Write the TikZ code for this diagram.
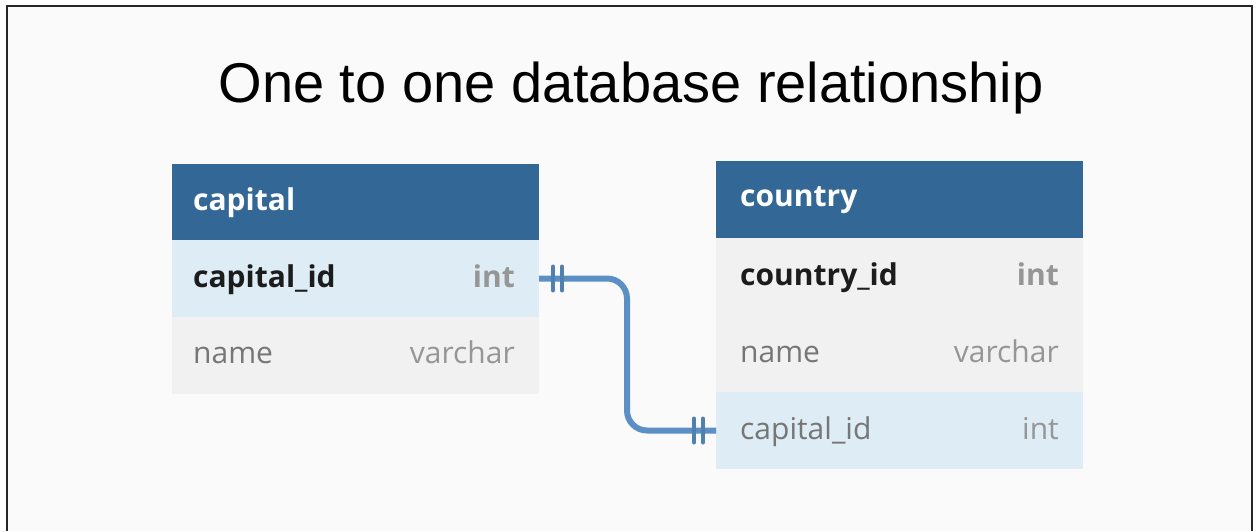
\documentclass[tikz,border=0pt]{standalone}
\usepackage{fontspec}
\setmainfont{Open Sans}
\newfontfamily\titlefont{Liberation Sans}
\definecolor{pagebg}{RGB}{250,250,250}
\definecolor{headblue}{RGB}{51,103,149}
\definecolor{keyrow}{RGB}{222,236,245}
\definecolor{plainrow}{RGB}{241,241,241}
\definecolor{linkblue}{RGB}{92,144,196}
\definecolor{barblue}{RGB}{80,128,178}
\definecolor{keytext}{RGB}{28,28,28}
\definecolor{typegrey}{RGB}{150,150,150}
\definecolor{fieldgrey}{RGB}{118,118,118}
\tikzset{
  cell/.style={anchor=north west, minimum width=367pt, minimum height=77pt, inner sep=0pt, outer sep=0pt},
  headcell/.style={cell, fill=headblue},
  keycell/.style={cell, fill=keyrow},
  plaincell/.style={cell, fill=plainrow},
  headtext/.style={anchor=base west, inner sep=0pt, text=white, font=\fontsize{30}{36}\selectfont\bfseries},
  keyname/.style={anchor=base west, inner sep=0pt, text=keytext, font=\fontsize{30}{36}\selectfont\bfseries},
  keytype/.style={anchor=base east, inner sep=0pt, text=typegrey, font=\fontsize{30}{36}\selectfont\bfseries},
  fieldname/.style={anchor=base west, inner sep=0pt, text=fieldgrey, font=\fontsize{30}{36}\selectfont},
  fieldtype/.style={anchor=base east, inner sep=0pt, text=typegrey, font=\fontsize{30}{36}\selectfont},
  link/.style={draw=linkblue, line width=6pt, rounded corners=20pt},
  onebar/.style={draw=barblue, line width=4pt, line cap=round},
}
\begin{document}
\begin{tikzpicture}[x=1pt, y=-1pt]
  % page and frame
  \fill[white] (0,0) rectangle (1256,531);
  \fill[pagebg] (8,7) rectangle (1251,531);
  \draw[line width=2pt, black!85] (7,531) -- (7,6) -- (1252,6) -- (1252,531);
  \useasboundingbox (0,0) rectangle (1256,531);

  % title
  \node[inner sep=0pt, anchor=base, font=\titlefont\fontsize{56}{64}\selectfont] (title) at (631,103) {One to one database relationship};

  % table: capital
  \node[headcell]  (caphead) at (172,164) {};
  \node[keycell]   (capid)   at (172,240) {};
  \node[plaincell] (capname) at (172,317) {};
  \node[headtext]  (caphead-t) at (193,210) {capital};
  \node[keyname]   (capid-n)   at (193,287) {capital\_id};
  \node[keytype]   (capid-t)   at (515,287) {int};
  \node[fieldname] (capname-n) at (193,363) {name};
  \node[fieldtype] (capname-t) at (515,363) {varchar};

  % table: country
  \node[headcell]  (cnthead) at (716,161) {};
  \node[plaincell] (cntid)   at (716,238) {};
  \node[plaincell] (cntname) at (716,315) {};
  \node[keycell]   (cntcap)  at (716,392) {};
  \node[headtext]  (cnthead-t) at (740,206) {country};
  \node[keyname]   (cntid-n)   at (740,285) {country\_id};
  \node[keytype]   (cntid-t)   at (1059,285) {int};
  \node[fieldname] (cntname-n) at (740,362) {name};
  \node[fieldtype] (cntname-t) at (1059,362) {varchar};
  \node[fieldname] (cntcap-n)  at (740,439) {capital\_id};
  \node[fieldtype] (cntcap-t)  at (1059,439) {int};

  % one-to-one link between capital.capital_id and country.capital_id
  \coordinate (bend) at (627,0);
  \draw[link] (capid.east) -- (capid.east -| bend) -- (cntcap.west -| bend) -- (cntcap.west);
  \draw[onebar] ([xshift=14pt]capid.east) ++(0,-12) -- ++(0,24);
  \draw[onebar] ([xshift=23pt]capid.east) ++(0,-12) -- ++(0,24);
  \draw[onebar] ([xshift=-22pt]cntcap.west) ++(0,-12) -- ++(0,24);
  \draw[onebar] ([xshift=-13pt]cntcap.west) ++(0,-12) -- ++(0,24);
\end{tikzpicture}
\end{document}
